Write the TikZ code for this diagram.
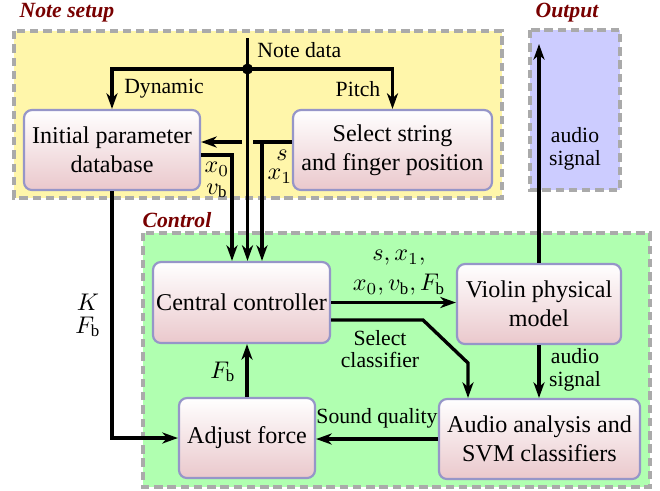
\documentclass[tikz,border=0pt]{standalone}
\usepackage{fontspec}
\setmainfont{Liberation Serif}
\usetikzlibrary{arrows.meta,calc}
\definecolor{notebg}{RGB}{255,246,170}
\definecolor{ctrlbg}{RGB}{176,255,176}
\definecolor{outbg}{RGB}{204,204,255}
\definecolor{grpgray}{RGB}{170,170,170}
\definecolor{grpred}{RGB}{120,0,0}
\definecolor{blkborder}{RGB}{150,150,200}
\definecolor{blkbot}{RGB}{234,200,204}
\newcommand{\pxu}{0.415pt}
\begin{document}
\begin{tikzpicture}[x=0.415pt,y=-0.415pt,
  blk/.style={draw=blkborder, line width=0.9pt, rounded corners=3.3pt, top color=white, bottom color=blkbot, align=center, inner sep=0pt},
  arr/.style={line width=1.4pt, -{Stealth[length=6.5pt,width=4.6pt,inset=2pt]}},
  ln/.style={line width=1.4pt},
  grp/.style={draw=grpgray, line width=1.3pt, dash pattern=on 3.5pt off 2pt},
  grplbl/.style={font=\small\bfseries\itshape, text=grpred, inner sep=0pt},
  lbl/.style={font=\small, align=center, inner sep=0pt},
  mth/.style={inner sep=0pt}]
\useasboundingbox (0,0) rectangle (660,490);
% group backgrounds
\draw[grp, fill=notebg] (14,31) rectangle (502,198);
\draw[grp, fill=outbg] (530,30) rectangle (620,190);
\draw[grp, fill=ctrlbg] (143,233) rectangle (650,487);
\node[grplbl] (gnote) at (67,13) {Note setup};
\node[grplbl] (gout) at (567,13) {Output};
\node[grplbl] (gctrl) at (177,220) {Control};
% blocks
\node[blk, minimum width={176*\pxu}, minimum height={80*\pxu}] (initial) at (112,150) {Initial parameter\\database};
\node[blk, minimum width={199*\pxu}, minimum height={80*\pxu}] (select) at (392.5,150) {Select string\\and finger position};
\node[blk, minimum width={177*\pxu}, minimum height={81*\pxu}] (central) at (241.5,302.5) {Central controller};
\node[blk, minimum width={164*\pxu}, minimum height={80*\pxu}] (violin) at (539,304) {Violin physical\\model};
\node[blk, minimum width={136*\pxu}, minimum height={80*\pxu}] (adjust) at (247,438) {Adjust force};
\node[blk, minimum width={201*\pxu}, minimum height={80*\pxu}] (audio) at (539.5,439) {Audio analysis and\\SVM classifiers};
% coordinates
\coordinate (nd) at (247.5,38);
\coordinate (split) at (247.5,69);
\coordinate (gapr) at (253,142);
\coordinate (gapl) at (242,142);
\coordinate (sj) at (262,142);
\coordinate (xj) at (232,155);
\coordinate (sc1) at (423,320);
\coordinate (sc2) at (468,363);
\coordinate (outend) at (539,44);
% connectors
\draw[arr] (nd) -- (nd|-central.north);
\fill (split) circle (5.5);
\draw[arr] (split) -| (initial.north);
\draw[arr] (split) -| (select.north);
\draw[ln] ($(select.west)+(0,-8)$) -- (gapr);
\draw[arr] (gapl) -- ($(initial.east)+(0,-8)$);
\draw[arr] (sj) -- (sj|-central.north);
\draw[arr] ($(initial.east)+(0,5)$) -| (xj|-central.north);
\draw[arr] (initial.south) |- (adjust.west);
\draw[arr] (adjust.north) -- (adjust.north|-central.south);
\draw[arr] (central.east) -- (central.east-|violin.west);
\draw[arr] ($(central.east)+(0,17.5)$) -- (sc1) -- (sc2) -- (sc2|-audio.north);
\draw[arr] (violin.south) -- (violin.south|-audio.north);
\draw[arr] (audio.west) -- (audio.west-|adjust.east);
\draw[arr] (violin.north) -- (outend);
% labels
\node[lbl, anchor=west] (lnd) at (257,50) {Note data};
\node[lbl] (ldyn) at (164,89) {Dynamic};
\node[lbl] (lpitch) at (358,89) {Pitch};
\node[mth] (ls) at (282,155) {$s$};
\node[mth] (lx1) at (280,176) {$x_1$};
\node[mth] (lx0) at (217,169) {$x_0$};
\node[mth] (lvb) at (217,191) {$v_{\mathrm{b}}$};
\node[mth] (lK) at (88,302) {$K$};
\node[mth] (lFb) at (88,327) {$F_{\mathrm{b}}$};
\node[mth] (lFb2) at (223,372) {$F_{\mathrm{b}}$};
\node[mth] (lsx) at (399,258) {$s, x_1,$};
\node[mth] (lxvf) at (399,285) {$x_0, v_{\mathrm{b}}, F_{\mathrm{b}}$};
\node[lbl] (lsel) at (380,349) {Select\\[-2pt]classifier};
\node[lbl] (laud) at (575,370) {audio\\[-1.5pt]signal};
\node[lbl] (laudo) at (575,149) {audio\\[-1.5pt]signal};
\node[lbl] (lsq) at (377,418) {Sound quality};
\end{tikzpicture}
\end{document}
